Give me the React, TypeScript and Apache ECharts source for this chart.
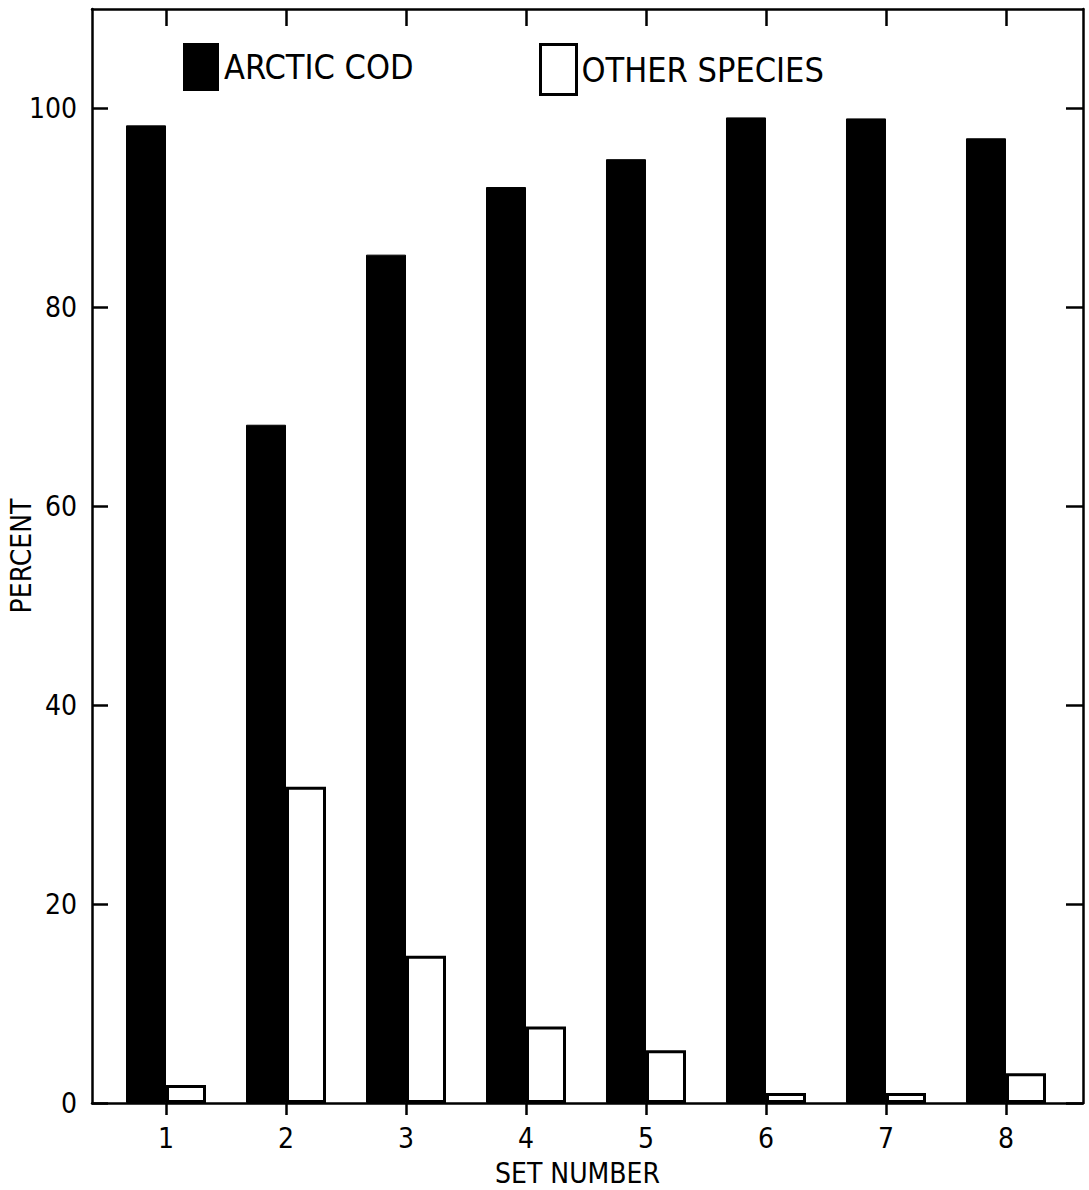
import React, { useEffect, useRef } from "react";
import * as echarts from "echarts";

const setNumbers = [1, 2, 3, 4, 5, 6, 7, 8];
const arcticCod = [98.3, 68.2, 85.3, 92.1, 94.9, 99.1, 99.0, 97.0];
const otherSpecies = [1.8, 31.8, 14.8, 7.7, 5.3, 1.0, 1.0, 3.0];
const yTicks = [0, 20, 40, 60, 80, 100];
const seriesNames = ["ARCTIC COD", "OTHER SPECIES"];

const FONT = "'Liberation Sans Narrow', 'DejaVu Sans Condensed', 'Liberation Sans', sans-serif";

export default function App() {
  const ref = useRef<HTMLDivElement | null>(null);

  useEffect(() => {
    if (!ref.current) return;
    const chart = echarts.init(ref.current, undefined, { renderer: "svg" });
    const line = { color: "#000", width: 2.5 };
    const labelStyle = { fontSize: 28, color: "#000", fontFamily: FONT };
    const xMin = 0.3833;
    const xMax = 8.6417;

    chart.setOption({
      animation: false,
      backgroundColor: "#fff",
      grid: { left: 92, right: 6, top: 9, bottom: 87, containLabel: false, outerBoundsMode: "none" },
      legend: [
        {
          data: [{ name: seriesNames[0], itemStyle: { color: "#000", borderWidth: 0 } }],
          left: 178,
          top: 38,
          itemWidth: 36,
          itemHeight: 48,
          icon: "rect",
          selectedMode: false,
          textStyle: { fontSize: 34, fontFamily: FONT, color: "#000" },
        },
        {
          data: [
            {
              name: seriesNames[1],
              itemStyle: { color: "#fff", borderColor: "#000", borderWidth: 3 },
            },
          ],
          left: 534,
          top: 38,
          itemWidth: 36,
          itemHeight: 50,
          icon: "rect",
          selectedMode: false,
          textStyle: { fontSize: 34, fontFamily: FONT, color: "#000" },
        },
      ],
      xAxis: [
        {
          type: "value",
          min: xMin,
          max: xMax,
          position: "bottom",
          axisLine: { show: true, onZero: false, lineStyle: line },
          axisTick: { show: true, inside: false, length: 12, lineStyle: line, customValues: setNumbers },
          axisLabel: { ...labelStyle, margin: 21, customValues: setNumbers },
          splitLine: { show: false },
          name: "SET NUMBER",
          nameLocation: "middle",
          nameGap: 56,
          nameMoveOverlap: false,
          nameTextStyle: { fontSize: 28, fontFamily: FONT, color: "#000", padding: [0, 20, 0, 0] },
        },
        {
          type: "value",
          min: xMin,
          max: xMax,
          position: "top",
          axisLine: { show: true, onZero: false, lineStyle: line },
          axisTick: { show: true, inside: true, length: 17, lineStyle: line, customValues: setNumbers },
          axisLabel: { show: false },
          splitLine: { show: false },
        },
      ],
      yAxis: [
        {
          type: "value",
          min: 0,
          max: 110,
          position: "left",
          axisLine: { show: true, onZero: false, lineStyle: line },
          axisTick: { show: true, inside: true, length: 16, lineStyle: line, customValues: yTicks },
          axisLabel: { ...labelStyle, margin: 15, customValues: yTicks },
          splitLine: { show: false },
          name: "PERCENT",
          nameLocation: "middle",
          nameRotate: 90,
          nameGap: 57,
          nameMoveOverlap: false,
          nameTextStyle: { fontSize: 28, fontFamily: FONT, color: "#000" },
        },
        {
          type: "value",
          min: 0,
          max: 110,
          position: "right",
          axisLine: { show: true, onZero: false, lineStyle: line },
          axisTick: { show: true, inside: true, length: 17, lineStyle: line, customValues: yTicks },
          axisLabel: { show: false },
          splitLine: { show: false },
        },
      ],
      series: [
        {
          name: seriesNames[0],
          type: "bar",
          xAxisIndex: 0,
          yAxisIndex: 0,
          barWidth: 40,
          barGap: "0%",
          itemStyle: { color: "#000", borderColor: "#000", borderWidth: 1 },
          data: setNumbers.map((n, i) => [n, arcticCod[i]]),
        },
        {
          name: seriesNames[1],
          type: "bar",
          xAxisIndex: 0,
          yAxisIndex: 0,
          barWidth: 40,
          barGap: "0%",
          itemStyle: { color: "#fff", borderColor: "#000", borderWidth: 3 },
          data: setNumbers.map((n, i) => [n, otherSpecies[i]]),
        },
      ],
    });

    return () => chart.dispose();
  }, []);

  return (
    <div
      ref={ref}
      style={{ position: "fixed", left: 0, top: 0, width: 1089, height: 1190, background: "#fff" }}
    />
  );
}
